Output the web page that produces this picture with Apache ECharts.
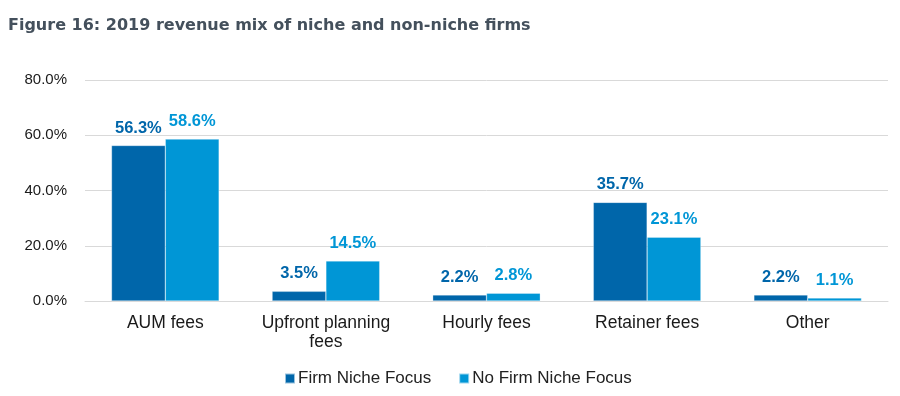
<!DOCTYPE html>
<html>
<head>
<meta charset="utf-8">
<script src="https://cdn.jsdelivr.net/npm/echarts@6/dist/echarts.min.js"></script>
<style>
  html, body { margin: 0; padding: 0; background: #fff; }
  #chart { width: 900px; height: 396px; }
</style>
</head>
<body>
<div id="chart"></div>
<script>
const categories = ['AUM fees', 'Upfront planning\nfees', 'Hourly fees', 'Retainer fees', 'Other']
const nicheValues = [56.3, 3.5, 2.2, 35.7, 2.2]
const nonNicheValues = [58.6, 14.5, 2.8, 23.1, 1.1]
const seriesNames = ['Firm Niche Focus', 'No Firm Niche Focus']
const colors = ['#0066aa', '#0096d6']

const chart = echarts.init(document.getElementById('chart'))
const font = 'Liberation Sans, Arial, sans-serif'

const makeSeries = (name, data, color) => ({
  name,
  type: 'bar',
  data,
  barGap: 0,
  barCategoryGap: '33%',
  itemStyle: { color, borderColor: 'rgba(255,255,255,0.6)', borderWidth: 0.5 },
  label: {
    show: true,
    position: 'top',
    distance: 9,
    color,
    fontFamily: font,
    fontWeight: 'bold',
    fontSize: 16.5,
    formatter: p => p.value.toFixed(1) + '%'
  }
})

const option = {
  animation: false,
  color: colors,
  title: {
    text: 'Figure 16: 2019 revenue mix of niche and non-niche firms',
    left: 3,
    top: 13,
    textStyle: {
      fontFamily: 'DejaVu Sans, sans-serif',
      fontWeight: 'bold',
      fontSize: 16,
      color: '#44505c'
    }
  },
  legend: {
    bottom: 4,
    left: 279,
    itemWidth: 10,
    itemHeight: 10,
    itemGap: 27,
    icon: 'rect',
    textStyle: { fontFamily: font, fontSize: 17, color: '#222', padding: [0, 0, 0, -2] },
    data: seriesNames
  },
  grid: {
    top: 80,
    left: 85,
    right: 12,
    bottom: 95
  },
  xAxis: {
    type: 'category',
    data: categories,
    axisTick: { show: false },
    axisLine: { lineStyle: { color: '#d9d9d9' } },
    axisLabel: {
      interval: 0,
      fontFamily: font,
      fontSize: 17.5,
      color: '#1a1a1a',
      margin: 13,
      lineHeight: 19
    }
  },
  yAxis: {
    type: 'value',
    min: 0,
    max: 80,
    interval: 20,
    axisLabel: {
      fontFamily: font,
      fontSize: 15,
      color: '#1a1a1a',
      margin: 18,
      formatter: v => v.toFixed(1) + '%'
    },
    splitLine: { lineStyle: { color: '#d9d9d9' } }
  },
  series: [
    makeSeries(seriesNames[0], nicheValues, colors[0]),
    makeSeries(seriesNames[1], nonNicheValues, colors[1])
  ]
}
chart.setOption(option)
</script>
</body>
</html>
